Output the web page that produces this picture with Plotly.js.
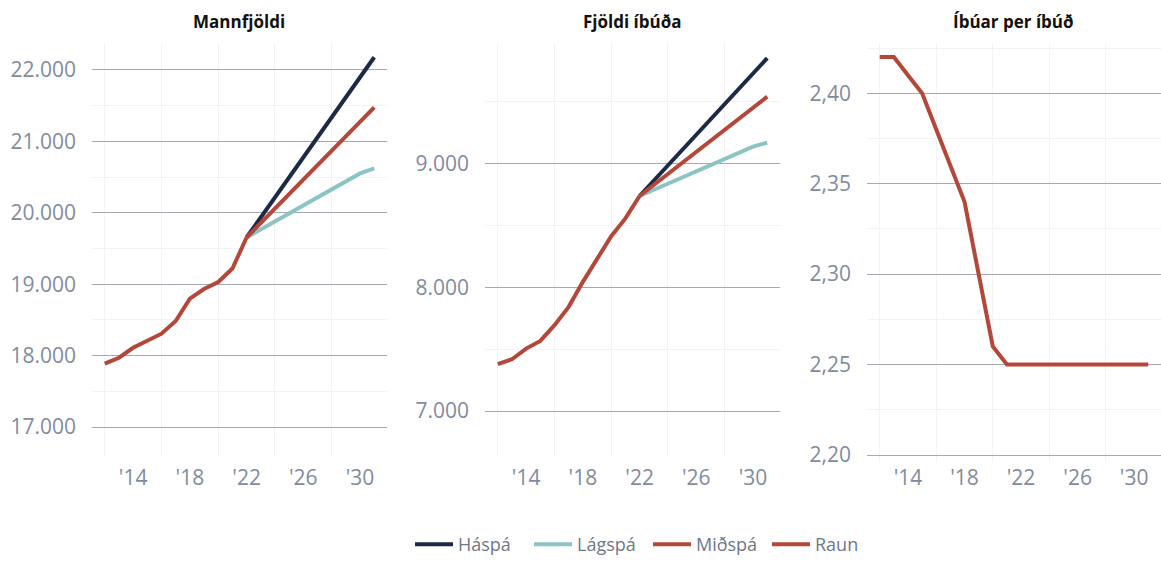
<!DOCTYPE html>
<html>
<head>
<meta charset="utf-8">
<script src="https://cdn.plot.ly/plotly-3.0.1.min.js"></script>
<style>html,body{margin:0;padding:0;background:#fff;}#chart{width:1161px;height:563px;}</style>
</head>
<body>
<div id="chart"></div>
<script>
// Years
const yearsRaun = [2012,2013,2014,2015,2016,2017,2018,2019,2020,2021,2022];
const yearsSpa = [2022,2023,2024,2025,2026,2027,2028,2029,2030,2031];
const yearsAll = [2012,2013,2014,2015,2016,2017,2018,2019,2020,2021,2022,2023,2024,2025,2026,2027,2028,2029,2030,2031];

// Mannfjöldi
const pop_raun = [17887,17970,18110,18203,18307,18484,18798,18933,19031,19219,19654];
const pop_haspa = [19654,19934,20215,20495,20776,21056,21336,21617,21897,22178];
const pop_midspa = [19654,19857,20059,20262,20464,20667,20870,21072,21275,21477];
const pop_lagspa = [19654,19766,19878,19990,20102,20214,20326,20438,20551,20621];

// Fjöldi íbúða
const ibud_raun = [7378,7418,7504,7566,7693,7841,8043,8232,8412,8555,8736];
const ibud_haspa = [8736,8860,8983,9107,9231,9354,9478,9602,9725,9849];
const ibud_midspa = [8736,8825,8914,9003,9092,9181,9270,9360,9449,9538];
const ibud_lagspa = [8736,8786,8836,8886,8936,8985,9035,9085,9135,9167];

// Íbúar per íbúð
const ratio = [2.42,2.42,2.41,2.40,2.38,2.36,2.34,2.30,2.26,2.25,2.25,2.25,2.25,2.25,2.25,2.25,2.25,2.25,2.25,2.25];

const titles = ["Mannfjöldi","Fjöldi íbúða","Íbúar per íbúð"];
const xTickVals = [2014,2018,2022,2026,2030];
const xTickText = ["'14","'18","'22","'26","'30"];

const C_HA = "#1c2a46", C_LA = "#8cc4c6", C_MID = "#b5473a", C_RAUN = "#b5473a";
const LW = 4;

function line(x, y, name, color, xa, ya, show) {
  return {x: x, y: y, name: name, type: "scatter", mode: "lines",
    line: {color: color, width: LW}, xaxis: xa, yaxis: ya,
    showlegend: show, legendgroup: name, hoverinfo: "skip"};
}

const data = [
  line(yearsSpa, pop_haspa, "Háspá", C_HA, "x", "y", true),
  line(yearsSpa, pop_lagspa, "Lágspá", C_LA, "x", "y", true),
  line(yearsSpa, pop_midspa, "Miðspá", C_MID, "x", "y", true),
  line(yearsRaun, pop_raun, "Raun", C_RAUN, "x", "y", true),
  line(yearsSpa, ibud_haspa, "Háspá", C_HA, "x2", "y2", false),
  line(yearsSpa, ibud_lagspa, "Lágspá", C_LA, "x2", "y2", false),
  line(yearsSpa, ibud_midspa, "Miðspá", C_MID, "x2", "y2", false),
  line(yearsRaun, ibud_raun, "Raun", C_RAUN, "x2", "y2", false),
  line(yearsAll, ratio, "Raun", C_RAUN, "x3", "y3", false)
];

const FONT = "Open Sans, sans-serif";
const tickFont = {family: FONT, size: 21, color: "#828b9e"};
const W = 1161, H = 563;
const yDom = [1 - 457/H, 1 - 43/H];
const yDom3 = [1 - 462/H, 1 - 43/H];

function xaxis(dom, standoff) {
  return {domain: dom, range: [2011.1, 2031.9], tickvals: xTickVals, ticktext: xTickText,
    showgrid: false, zeroline: false, showline: false, ticks: "", ticklabelstandoff: standoff,
    tickfont: tickFont, automargin: false, fixedrange: true,
    minor: {tick0: 2012, dtick: 4, showgrid: true, gridcolor: "#f3f3f5", gridwidth: 1}};
}
function yaxis(dom, range, dtick, fmt, anchor, minorDt) {
  return {domain: dom, range: range, dtick: dtick, tickformat: fmt, anchor: anchor,
    showgrid: true, gridcolor: "#a4a9b6", gridwidth: 1, zeroline: false, showline: false,
    ticks: "", ticklabelstandoff: 15, tickfont: tickFont, automargin: false, fixedrange: true,
    minor: {dtick: minorDt, showgrid: true, gridcolor: "#f3f3f5", gridwidth: 1}};
}

const d1 = [92/W, 387/W], d2 = [485/W, 780/W], d3 = [867/W, 1];

const layout = {
  width: W, height: H,
  margin: {l: 0, r: 0, t: 0, b: 0},
  paper_bgcolor: "#ffffff", plot_bgcolor: "#ffffff",
  separators: ",.",
  font: {family: FONT, color: "#828b9e"},
  showlegend: true,
  legend: {orientation: "h", x: 410/W, y: 0, xanchor: "left", yanchor: "bottom",
    font: {family: FONT, size: 18, color: "#6f7789"}, itemwidth: 38, entrywidth: 66,
    tracegroupgap: 0, bgcolor: "rgba(0,0,0,0)"},
  xaxis: Object.assign(xaxis(d1, 6), {anchor: "y"}),
  xaxis2: Object.assign(xaxis(d2, 6), {anchor: "y2"}),
  xaxis3: Object.assign(xaxis(d3, 1), {anchor: "y3"}),
  yaxis: yaxis(yDom, [16580, 22378], 1000, ",.0f", "x", 500),
  yaxis2: yaxis(yDom, [6629, 9971], 1000, ",.0f", "x2", 500),
  yaxis3: yaxis(yDom3, [2.19613, 2.4278], 0.05, ".2f", "x3", 0.025),
  annotations: [
    {text: "<b>" + titles[0] + "</b>", x: (d1[0]+d1[1])/2, y: 1 - 22/H},
    {text: "<b>" + titles[1] + "</b>", x: (d2[0]+d2[1])/2, y: 1 - 22/H},
    {text: "<b>" + titles[2] + "</b>", x: (d3[0]+d3[1])/2, y: 1 - 22/H}
  ].map(a => Object.assign(a, {xref: "paper", yref: "paper", showarrow: false,
    xanchor: "center", yanchor: "middle", font: {family: FONT, size: 17, color: "#111111"}}))
};

Plotly.newPlot("chart", data, layout, {displayModeBar: false, staticPlot: true});
</script>
</body>
</html>
